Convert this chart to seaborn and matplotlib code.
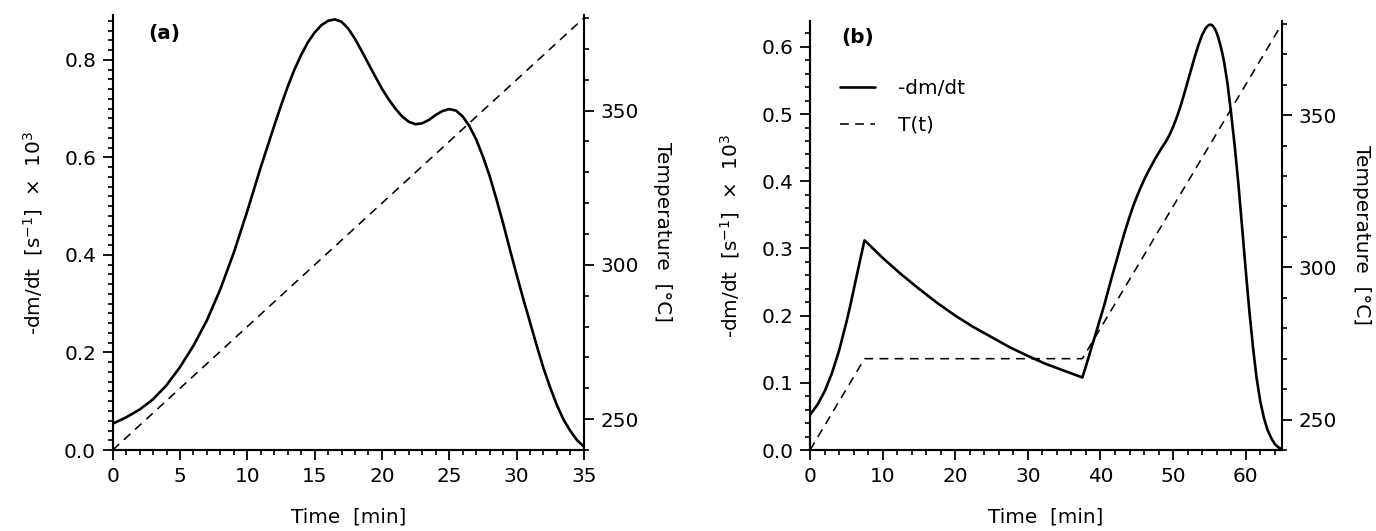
import matplotlib
matplotlib.use("Agg")
import matplotlib.pyplot as plt
import seaborn as sns
from matplotlib.ticker import MultipleLocator

# panel (a): constant heating rate
time_a = [0, 1, 2, 3, 4, 5, 6, 7, 8, 9, 10, 11, 12, 12.5, 13, 13.5, 14, 14.5, 15,
          15.5, 16, 16.5, 17, 17.5, 18, 18.5, 19, 19.5, 20, 20.5, 21, 21.5, 22,
          22.5, 23, 23.5, 24, 24.5, 25, 25.5, 26, 26.5, 27, 27.5, 28, 28.5, 29,
          29.5, 30, 30.5, 31, 31.5, 32, 32.5, 33, 33.5, 34, 34.5, 35]
dmdt_a = [0.054, 0.067, 0.083, 0.104, 0.133, 0.170, 0.214, 0.266, 0.330, 0.405,
          0.490, 0.580, 0.665, 0.706, 0.745, 0.780, 0.810, 0.836, 0.856, 0.871,
          0.880, 0.883, 0.878, 0.864, 0.843, 0.818, 0.792, 0.766, 0.741, 0.719,
          0.700, 0.684, 0.673, 0.668, 0.670, 0.677, 0.687, 0.695, 0.699, 0.696,
          0.684, 0.664, 0.637, 0.602, 0.562, 0.515, 0.465, 0.412, 0.360, 0.310,
          0.262, 0.214, 0.168, 0.128, 0.092, 0.062, 0.039, 0.020, 0.007]
temp_time_a = [0, 35]
temp_a = [240, 380]

# panel (b): ramp - isothermal hold - ramp
time_b = [0, 1, 2, 3, 4, 5, 5.5, 6, 6.5, 7, 7.5, 8, 10, 12.5, 15, 17.5, 20, 22.5,
          25, 27.5, 30, 32.5, 35, 37.5, 38, 38.5, 39, 39.5, 40, 40.5, 41, 41.5,
          42, 42.5, 43, 43.5, 44, 44.5, 45, 45.5, 46, 46.5, 47, 47.5, 48, 48.5,
          49, 49.5, 50, 50.5, 51, 51.5, 52, 52.5, 53, 53.5, 54, 54.5, 54.75, 55,
          55.25, 55.5, 55.75, 56, 56.25, 56.5, 56.75, 57, 57.5, 58, 58.5, 59,
          59.5, 60, 60.5, 61, 61.5, 62, 62.5, 63, 63.5, 64, 64.5, 65]
dmdt_b = [0.0525, 0.067, 0.087, 0.114, 0.148, 0.190, 0.213, 0.238, 0.263, 0.288,
          0.312, 0.307, 0.286, 0.262, 0.240, 0.219, 0.200, 0.183, 0.168, 0.153,
          0.140, 0.128, 0.118, 0.108, 0.125, 0.143, 0.161, 0.179, 0.197, 0.215,
          0.235, 0.255, 0.274, 0.293, 0.312, 0.330, 0.347, 0.363, 0.377, 0.390,
          0.402, 0.413, 0.423, 0.433, 0.442, 0.451, 0.459, 0.469, 0.481, 0.495,
          0.511, 0.529, 0.548, 0.567, 0.586, 0.603, 0.618, 0.628, 0.631, 0.633,
          0.633, 0.631, 0.627, 0.621, 0.613, 0.603, 0.592, 0.579, 0.545, 0.500,
          0.451, 0.395, 0.332, 0.268, 0.207, 0.153, 0.107, 0.073, 0.048, 0.030,
          0.018, 0.009, 0.004, 0.001]
temp_time_b = [0, 7.5, 37.5, 65]
temp_b = [240, 270, 270, 380]

sns.set_style("ticks")
plt.rcParams["font.family"] = ["DejaVu Sans"]
plt.rcParams["mathtext.fontset"] = "dejavusans"
for key in ["text.color", "axes.labelcolor", "xtick.color", "ytick.color", "axes.edgecolor"]:
    plt.rcParams[key] = "black"
FS = 14.4

fig = plt.figure(figsize=(13.76, 5.31), dpi=100)

panels = [
    dict(rect=[0.0819, 0.1525, 0.3424, 0.8193], t=time_a, y=dmdt_a, tt=temp_time_a, T=temp_a,
         xlim=(0, 35), xmaj=5, xmin=1, ylim=(0, 0.892), ymaj=0.2, tag="(a)", tagpos=(0.075, 0.958)),
    dict(rect=[0.5887, 0.1525, 0.3430, 0.8085], t=time_b, y=dmdt_b, tt=temp_time_b, T=temp_b,
         xlim=(0, 65), xmaj=10, xmin=2, ylim=(0, 0.639), ymaj=0.1, tag="(b)", tagpos=(0.067, 0.962)),
]

dash = (0, (5.5, 4))

for i, p in enumerate(panels):
    ax = fig.add_axes(p["rect"])
    sns.lineplot(x=p["t"], y=p["y"], ax=ax, color="black", linewidth=1.9)
    ax2 = ax.twinx()
    sns.lineplot(x=p["tt"], y=p["T"], ax=ax2, color="black", linewidth=1.15, linestyle=dash)

    ax.set_xlim(*p["xlim"])
    ax.set_ylim(*p["ylim"])
    ax2.set_ylim(240, 381)
    ax.xaxis.set_major_locator(MultipleLocator(p["xmaj"]))
    ax.xaxis.set_minor_locator(MultipleLocator(p["xmin"]))
    ax.yaxis.set_major_locator(MultipleLocator(p["ymaj"]))
    ax.yaxis.set_minor_locator(MultipleLocator(0.02))
    ax.yaxis.set_major_formatter(plt.FormatStrFormatter("%.1f"))
    ax2.yaxis.set_major_locator(MultipleLocator(50))
    ax2.yaxis.set_minor_locator(MultipleLocator(10))

    for a in (ax, ax2):
        a.spines["top"].set_visible(False)
        for s in a.spines.values():
            s.set_linewidth(1.5)
        a.tick_params(which="major", direction="out", length=7, width=1.3, labelsize=FS, pad=5)
        a.tick_params(which="minor", direction="out", length=3.5, width=1.2)
    ax.spines["right"].set_visible(False)

    ax.set_xlabel("Time  [min]", fontsize=FS, labelpad=16)
    ax.set_ylabel(r"-dm/dt  [s$^{-1}$]  ×  10$^{3}$", fontsize=FS, labelpad=14)
    ax2.set_ylabel("Temperature  [°C]", fontsize=FS, rotation=270, labelpad=24)

    ax.text(p["tagpos"][0], p["tagpos"][1], p["tag"], transform=ax.transAxes,
            fontsize=FS, fontweight="bold", va="center", ha="left")

    if i == 1:
        ax2.legend([ax.lines[0], ax2.lines[0]], ["-dm/dt", "T(t)"], loc="upper left",
                   bbox_to_anchor=(0.064, 0.865), frameon=False, fontsize=FS,
                   borderpad=0, borderaxespad=0, handlelength=1.75,
                   handletextpad=1.15, labelspacing=0.9)

fig.savefig("out.png", dpi=100)
